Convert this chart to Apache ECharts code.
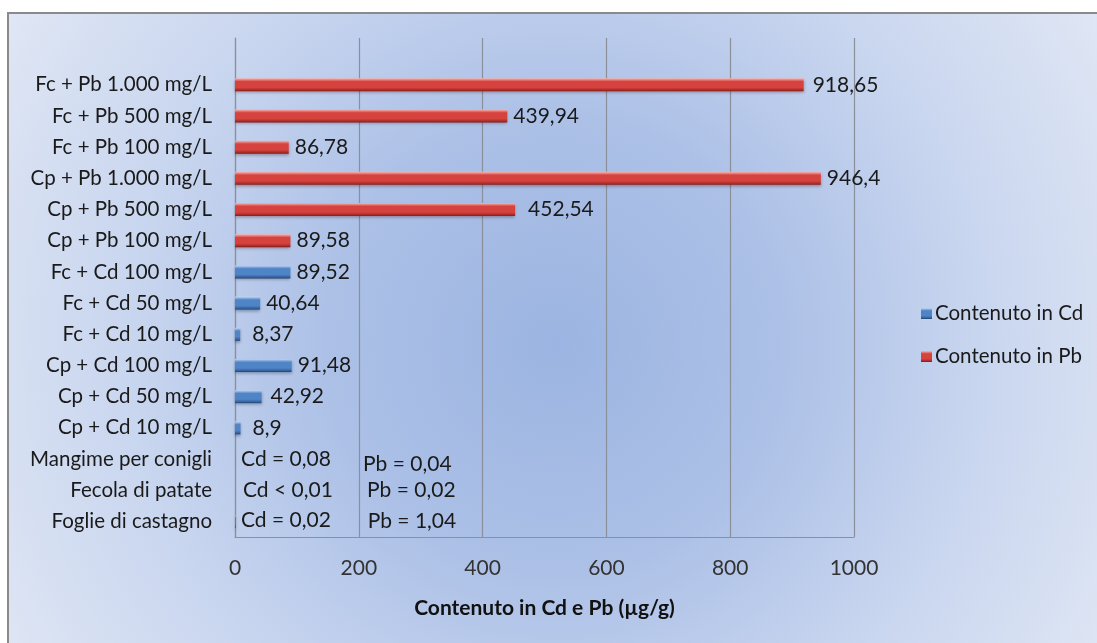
<!DOCTYPE html>
<html>
<head>
<meta charset="utf-8">
<script src="https://cdn.jsdelivr.net/npm/echarts@6/dist/echarts.min.js"></script>
<style>
  html, body { margin: 0; padding: 0; background: #ffffff; }
  #chart { width: 1097px; height: 643px; }
</style>
</head>
<body>
<div id="chart"></div>
<script>
// Samples, listed from the bottom row of the chart to the top one (last row left blank)
const categories = [
  'Foglie di castagno', 'Fecola di patate', 'Mangime per conigli',
  'Cp + Cd 10 mg/L', 'Cp + Cd 50 mg/L', 'Cp + Cd 100 mg/L',
  'Fc + Cd 10 mg/L', 'Fc + Cd 50 mg/L', 'Fc + Cd 100 mg/L',
  'Cp + Pb 100 mg/L', 'Cp + Pb 500 mg/L', 'Cp + Pb 1.000 mg/L',
  'Fc + Pb 100 mg/L', 'Fc + Pb 500 mg/L', 'Fc + Pb 1.000 mg/L', ''
];

// Cadmium content (µg/g)
const cdValues = [0.02, 0.01, 0.08, 8.9, 42.92, 91.48, 8.37, 40.64, 89.52, null, null, null, null, null, null, null];
// Lead content (µg/g)
const pbValues = [1.04, 0.02, 0.04, null, null, null, null, null, null, 89.58, 452.54, 946.4, 86.78, 439.94, 918.65, null];
// Relation sign for the untreated samples (first three rows)
const cdSigns = ['=', '<', '='];
const pbSigns = ['=', '=', '='];

const xTicks = [0, 200, 400, 600, 800, 1000];
const seriesNames = ['Contenuto in Cd', 'Contenuto in Pb'];
const axisTitle = 'Contenuto in Cd e Pb (µg/g)';

// Label placement tweaks, per row (bottom to top)
const cdLabelOffsets = [[0, -1], [2, 0], [0, 0], [6, 0], [3, 0], [0, 0], [6, 0], [0, 0], [0, 0]];
const pbLabelOffsets = [[126, 0], [126, 0], [122, 5], null, null, null, null, null, null,
                        [0, 0], [7, 0], [0, 0], [0, 0], [0, 0], [3, 0]];

const BASE_ROWS = 3;
const FONT = 'Lato, "Open Sans", sans-serif';

function fmt(v) {
  return String(v).replace('.', ',');
}

function cylinder(light, mid, dark, edge) {
  return {
    type: 'linear', x: 0, y: 0, x2: 0, y2: 1,
    colorStops: [
      { offset: 0, color: light },
      { offset: 0.25, color: mid },
      { offset: 0.7, color: mid },
      { offset: 0.9, color: dark },
      { offset: 1, color: edge }
    ]
  };
}

const blueFill = cylinder('#c3d8f4', '#4f84c6', '#35629e', '#243f6a');
const redFill = cylinder('#f5b9b7', '#d6433f', '#aa2b28', '#7a1c1a');

function buildData(values, signs, tag, offsets) {
  return values.map((v, i) => {
    if (v === null) return null;
    const off = offsets[i] || [0, 0];
    const label = { offset: off };
    if (i < BASE_ROWS) {
      label.formatter = tag + ' ' + signs[i] + ' ' + fmt(v);
    }
    return { value: v, label: label };
  });
}

const chart = echarts.init(document.getElementById('chart'), null, { renderer: 'canvas' });

const labelBase = {
  show: true,
  position: 'right',
  distance: 6,
  color: '#1a1a1a',
  fontFamily: FONT,
  fontSize: 21,
  formatter: p => fmt(p.value)
};

chart.setOption({
  backgroundColor: '#ffffff',
  animation: false,
  graphic: [{
    type: 'rect',
    z: -100,
    silent: true,
    shape: { x: 8, y: 13, width: 1200, height: 700 },
    style: {
      fill: {
        type: 'radial', x: 555, y: 345, r: 660, global: true,
        colorStops: [
          { offset: 0, color: '#9bb4e1' },
          { offset: 0.35, color: '#adc1e7' },
          { offset: 0.65, color: '#c9d6ef' },
          { offset: 1, color: '#e2e8f5' }
        ]
      },
      stroke: '#8a8a8a',
      lineWidth: 2
    }
  }],
  grid: { left: 235, right: 243, top: 38, bottom: 106, containLabel: false },
  legend: {
    orient: 'vertical',
    left: 916,
    top: 298,
    itemWidth: 11,
    itemHeight: 11,
    itemGap: 22,
    icon: 'rect',
    textStyle: { fontFamily: FONT, fontSize: 20.5, color: '#1a1a1a', padding: [0, 0, 0, -2] },
    data: seriesNames
  },
  xAxis: {
    type: 'value',
    min: xTicks[0],
    max: xTicks[xTicks.length - 1],
    interval: xTicks[1] - xTicks[0],
    name: axisTitle,
    nameLocation: 'middle',
    nameGap: 61,
    nameTextStyle: { fontFamily: FONT, fontSize: 21, fontWeight: 'bold', color: '#111' },
    axisLine: { show: true, lineStyle: { color: '#8a919c', width: 1.2 } },
    axisTick: { show: false },
    axisLabel: { fontFamily: FONT, fontSize: 21, color: '#333', margin: 21, formatter: v => String(v) },
    splitLine: { show: true, lineStyle: { color: '#8a8f99', width: 1.2 } }
  },
  yAxis: {
    type: 'category',
    data: categories,
    axisLine: { show: true, lineStyle: { color: '#8a919c', width: 1.2 } },
    axisTick: { show: false },
    axisLabel: { fontFamily: FONT, fontSize: 20.5, color: '#1a1a1a', margin: 23 },
    splitLine: { show: false }
  },
  series: [
    {
      name: seriesNames[0],
      type: 'bar',
      data: buildData(cdValues, cdSigns, 'Cd', cdLabelOffsets),
      barWidth: 13,
      barGap: '-100%',
      color: '#4f81bd',
      itemStyle: {
        color: blueFill,
        shadowColor: 'rgba(20,30,60,0.35)',
        shadowBlur: 3,
        shadowOffsetY: 2
      },
      label: labelBase
    },
    {
      name: seriesNames[1],
      type: 'bar',
      data: buildData(pbValues, pbSigns, 'Pb', pbLabelOffsets),
      barWidth: 13,
      color: '#c0504d',
      itemStyle: {
        color: redFill,
        shadowColor: 'rgba(60,20,20,0.35)',
        shadowBlur: 3,
        shadowOffsetY: 2
      },
      label: labelBase
    }
  ]
});
</script>
</body>
</html>
